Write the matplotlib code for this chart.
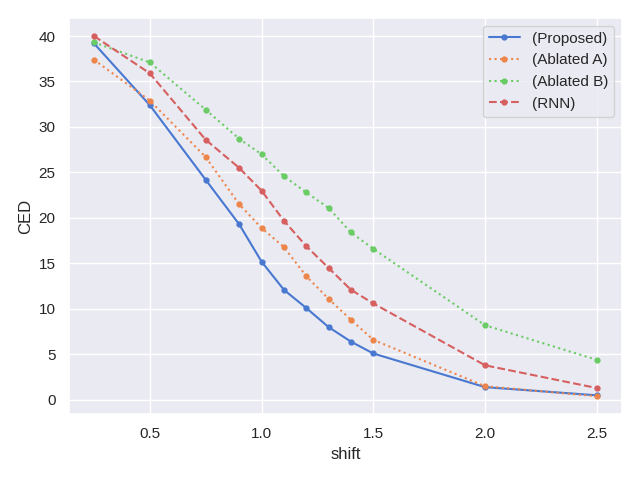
import numpy as np
import seaborn as sns
from matplotlib import pyplot as plt

shift = [0.25, 0.5, 0.75, 0.9, 1.0, 1.1, 1.2, 1.3, 1.4, 1.5, 2.0, 2.5]
proposed = [39.2, 32.4, 24.2, 19.3, 15.2, 12.1, 10.1, 8.0, 6.4, 5.1, 1.4, 0.5]
ablated_a = [37.4, 32.9, 26.7, 21.5, 18.9, 16.8, 13.6, 11.1, 8.8, 6.6, 1.5, 0.4]
ablated_b = [39.3, 37.1, 31.9, 28.7, 27.0, 24.6, 22.8, 21.1, 18.4, 16.6, 8.2, 4.4]
rnn = [40.0, 35.9, 28.6, 25.5, 23.0, 19.7, 16.9, 14.5, 12.1, 10.6, 3.8, 1.3]

sns.set_theme(style='darkgrid', palette='muted')
# Arial look-alike
plt.rcParams['font.family'] = ['Liberation Sans', 'DejaVu Sans']

fig, ax = plt.subplots(figsize=(6.4, 4.8), dpi=100)

series = [
    ('(Proposed)', proposed, '-'),
    ('(Ablated A)', ablated_a, ':'),
    ('(Ablated B)', ablated_b, ':'),
    ('(RNN)', rnn, '--'),
]
for label, vals, ls in series:
    ax.plot(shift, vals, linestyle=ls, marker='o', markersize=3.5, label=label)

ax.set_xlabel('shift')
ax.set_ylabel('CED')
ax.legend(loc='upper right')

fig.tight_layout()
fig.savefig('out.png')
